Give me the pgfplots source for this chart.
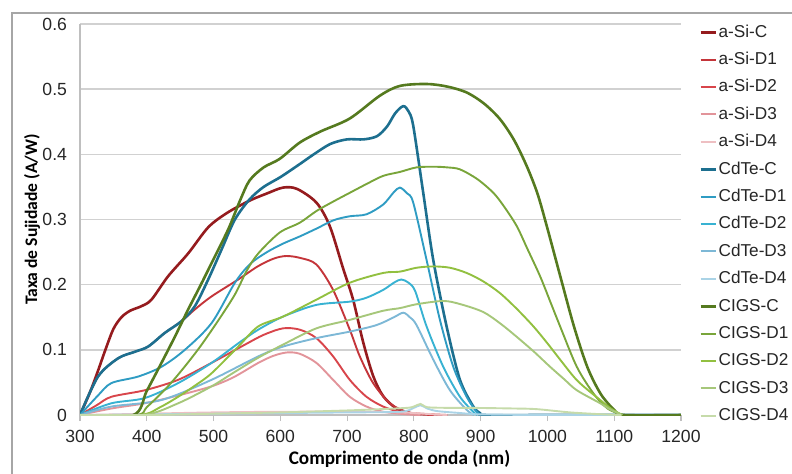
\documentclass[border=0pt]{standalone}
\usepackage{fontspec}
\setmainfont{Liberation Sans}
\newfontfamily\labfont{Carlito}
\usepackage{pgfplots}
\pgfplotsset{compat=1.18}
\definecolor{aSiC}{HTML}{951B1E}
\definecolor{aSiD1}{HTML}{C4353A}
\definecolor{aSiD2}{HTML}{D8454B}
\definecolor{aSiD3}{HTML}{E2949A}
\definecolor{aSiD4}{HTML}{EEBFC2}
\definecolor{CdTeC}{HTML}{1D6F8F}
\definecolor{CdTeD1}{HTML}{2F9CC3}
\definecolor{CdTeD2}{HTML}{38B2D2}
\definecolor{CdTeD3}{HTML}{7DB8D6}
\definecolor{CdTeD4}{HTML}{AAD3E6}
\definecolor{CIGSC}{HTML}{557A1F}
\definecolor{CIGSD1}{HTML}{79A53A}
\definecolor{CIGSD2}{HTML}{92C040}
\definecolor{CIGSD3}{HTML}{A6C77A}
\definecolor{CIGSD4}{HTML}{C6DBAA}
\begin{document}
\begin{tikzpicture}
\draw[color=black!35, line width=1pt] (6pt,-6.5pt) rectangle (402pt,-245pt);
\begin{axis}[
  at={(40pt,-207.5pt)}, anchor=south west,
  scale only axis, width=300.5pt, height=195.5pt,
  xmin=300, xmax=1200, ymin=0, ymax=0.6,
  xtick={300,400,...,1200}, ytick={0,0.1,0.2,0.3,0.4,0.5,0.6},
  axis x line*=bottom, axis y line*=left,
  axis line style={-, draw=black!25, line width=0.8pt},
  ymajorgrids, grid style={draw=black!18, line width=0.8pt},
  ytick style={draw=none},
  xtick style={draw=black!25, line width=0.6pt},
  tick align=outside, major tick length=3pt,
  /pgf/number format/assume math mode=true,
  xticklabel style={/pgf/number format/1000 sep={}, yshift=-1.2pt},
  yticklabel style={/pgf/number format/fixed, /pgf/number format/precision=1},
  tick label style={font=\fontsize{8.8}{10}\selectfont, text=black!85},
  every axis y label/.style={at={(rel axis cs:0,0.5)}, rotate=90, anchor=center, yshift=24pt},
  every axis x label/.style={at={(rel axis cs:0.5,0)}, anchor=center, xshift=9.5pt, yshift=-22pt},
  xlabel={\labfont\bfseries\fontsize{9.6}{10}\selectfont Comprimento de onda (nm)},
  ylabel={\labfont\bfseries\fontsize{8.8}{10}\selectfont Taxa de Sujidade (A/W)},
  legend style={at={(1,1)}, anchor=north west, xshift=6pt, yshift=3pt, draw=none, fill=none,
    font=\fontsize{8.6}{10}\selectfont, text=black!85, row sep=3.9pt,
    nodes={inner sep=0.8pt, text height=6.5pt, text depth=1.7pt}},
  legend cell align=left,
  legend image code/.code={\draw[#1] (0pt,0pt) -- (7.5pt,0pt);},
  every axis plot/.append style={smooth, tension=0.5},
]
% a-Si
\addplot[aSiC, line width=1.3pt] coordinates {(300,0) (315,0.035) (327,0.068) (338,0.100) (350,0.132) (362,0.150) (375,0.160) (392,0.167) (407,0.177) (432,0.213) (462,0.248) (492,0.288) (520,0.310) (554,0.329) (580,0.340) (604,0.349) (625,0.347) (654,0.326) (674,0.290) (694,0.225) (709,0.177) (724,0.112) (739,0.060) (754,0.029) (774,0.010) (794,0.003) (810,0)};
\addlegendentry{a-Si-C}
\addplot[aSiD1, line width=0.95pt] coordinates {(300,0) (327,0.059) (357,0.087) (382,0.097) (402,0.105) (427,0.126) (452,0.144) (472,0.162) (497,0.182) (537,0.208) (566,0.228) (590,0.240) (609,0.244) (630,0.241) (654,0.231) (679,0.192) (704,0.131) (719,0.090) (739,0.049) (764,0.018) (789,0.005) (810,0.001) (830,0)};
\addlegendentry{a-Si-D1}
\addplot[aSiD2, line width=0.95pt] coordinates {(300,0) (325,0.015) (347,0.028) (397,0.038) (447,0.054) (497,0.080) (547,0.108) (575,0.123) (604,0.133) (629,0.131) (654,0.118) (679,0.090) (704,0.054) (729,0.028) (754,0.013) (779,0.005) (810,0.002) (850,0)};
\addlegendentry{a-Si-D2}
\addplot[aSiD3, line width=0.95pt] coordinates {(300,0) (347,0.010) (397,0.018) (447,0.030) (497,0.044) (530,0.058) (567,0.080) (590,0.091) (610,0.096) (629,0.094) (654,0.080) (679,0.054) (704,0.028) (729,0.013) (754,0.005) (790,0.001) (810,0)};
\addlegendentry{a-Si-D3}
\addplot[aSiD4, line width=0.95pt] coordinates {(300,0) (400,0.002) (500,0.004) (600,0.005) (700,0.005) (780,0.004) (830,0.001) (850,0)};
\addlegendentry{a-Si-D4}
% CdTe
\addplot[CdTeC, line width=1.3pt] coordinates {(300,0) (327,0.059) (357,0.087) (382,0.097) (402,0.105) (427,0.126) (452,0.144) (472,0.167) (492,0.208) (512,0.254) (532,0.300) (554,0.331) (575,0.350) (600,0.365) (629,0.385) (650,0.400) (675,0.416) (700,0.423) (725,0.423) (745,0.428) (760,0.443) (772,0.463) (784,0.474) (792,0.466) (799,0.444) (814,0.341) (829,0.238) (849,0.136) (869,0.054) (889,0.013) (899,0.003) (905,0) (1000,0) (1200,0)};
\addlegendentry{CdTe-C}
\addplot[CdTeD1, line width=0.95pt] coordinates {(300,0) (327,0.030) (347,0.049) (387,0.059) (422,0.074) (457,0.100) (497,0.141) (532,0.203) (555,0.232) (580,0.250) (604,0.263) (629,0.274) (654,0.286) (680,0.299) (704,0.305) (729,0.308) (754,0.323) (770,0.342) (779,0.349) (790,0.340) (799,0.326) (819,0.238) (839,0.146) (859,0.074) (879,0.028) (894,0.005) (900,0)};
\addlegendentry{CdTe-D1}
\addplot[CdTeD2, line width=0.95pt] coordinates {(300,0) (347,0.018) (397,0.026) (447,0.049) (497,0.080) (537,0.110) (567,0.131) (604,0.151) (654,0.169) (704,0.174) (729,0.180) (754,0.192) (770,0.203) (781,0.208) (792,0.203) (802,0.190) (819,0.136) (844,0.074) (869,0.028) (889,0.005) (895,0)};
\addlegendentry{CdTe-D2}
\addplot[CdTeD3, line width=0.95pt] coordinates {(300,0) (347,0.013) (422,0.023) (497,0.054) (567,0.090) (604,0.105) (654,0.118) (704,0.128) (744,0.138) (770,0.150) (784,0.157) (794,0.150) (804,0.138) (829,0.085) (854,0.038) (879,0.008) (890,0)};
\addlegendentry{CdTe-D3}
\addplot[CdTeD4, line width=0.95pt] coordinates {(300,0) (400,0.001) (500,0.002) (600,0.003) (700,0.004) (780,0.005) (800,0.011) (810,0.015) (820,0.010) (835,0.006) (870,0.003) (900,0.001) (1000,0) (1200,0)};
\addlegendentry{CdTe-D4}
% CIGS
\addplot[CIGSC, line width=1.3pt] coordinates {(300,0) (380,0) (400,0.037) (422,0.080) (442,0.120) (462,0.162) (480,0.198) (497,0.233) (522,0.285) (540,0.330) (554,0.360) (575,0.380) (599,0.393) (629,0.418) (660,0.435) (704,0.455) (749,0.490) (779,0.505) (819,0.508) (850,0.504) (879,0.495) (905,0.478) (929,0.454) (950,0.422) (969,0.382) (985,0.340) (999,0.290) (1020,0.210) (1040,0.135) (1060,0.073) (1080,0.032) (1100,0.008) (1115,0) (1200,0)};
\addlegendentry{CIGS-C}
\addplot[CIGSD1, line width=0.95pt] coordinates {(300,0) (385,0) (400,0.012) (430,0.042) (455,0.072) (480,0.105) (507,0.145) (532,0.185) (550,0.222) (567,0.248) (599,0.280) (629,0.295) (654,0.313) (680,0.328) (704,0.341) (730,0.355) (754,0.367) (779,0.373) (804,0.380) (830,0.381) (850,0.380) (869,0.377) (895,0.362) (919,0.341) (935,0.320) (954,0.290) (970,0.255) (989,0.213) (1005,0.172) (1019,0.136) (1044,0.074) (1069,0.033) (1090,0.010) (1112,0)};
\addlegendentry{CIGS-D1}
\addplot[CIGSD2, line width=0.95pt] coordinates {(300,0) (390,0) (420,0.012) (447,0.028) (472,0.045) (497,0.064) (537,0.105) (567,0.136) (604,0.151) (654,0.177) (704,0.203) (754,0.218) (779,0.220) (804,0.226) (829,0.228) (854,0.226) (879,0.218) (904,0.205) (929,0.187) (954,0.163) (979,0.136) (1000,0.110) (1019,0.085) (1040,0.058) (1054,0.044) (1079,0.023) (1095,0.010) (1112,0)};
\addlegendentry{CIGS-D2}
\addplot[CIGSD3, line width=0.95pt] coordinates {(300,0) (395,0) (447,0.018) (497,0.044) (530,0.065) (567,0.088) (604,0.108) (654,0.133) (704,0.146) (754,0.160) (779,0.164) (804,0.170) (844,0.175) (870,0.170) (904,0.158) (930,0.140) (954,0.120) (980,0.097) (1004,0.074) (1025,0.055) (1044,0.038) (1079,0.018) (1095,0.008) (1112,0)};
\addlegendentry{CIGS-D3}
\addplot[CIGSD4, line width=0.95pt] coordinates {(300,0) (400,0) (500,0.002) (600,0.004) (700,0.007) (750,0.009) (790,0.011) (800,0.013) (810,0.017) (820,0.012) (850,0.011) (884,0.011) (950,0.010) (984,0.009) (1034,0.004) (1084,0.001) (1110,0)};
\addlegendentry{CIGS-D4}
\end{axis}
\pgfresetboundingbox
\path[use as bounding box] (0pt,0pt) rectangle (396pt,-236.5pt);
\end{tikzpicture}
\end{document}
